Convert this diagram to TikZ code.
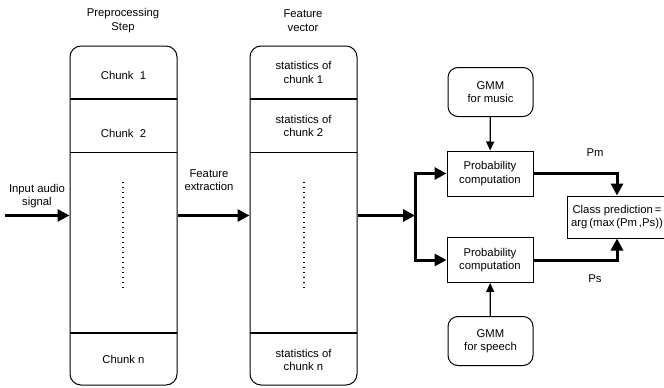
\documentclass[tikz,border=0pt]{standalone}
\usepackage{fontspec}
\setmainfont{Liberation Sans}
\usetikzlibrary{arrows.meta}

\begin{document}
\begin{tikzpicture}[x=1pt, y=-1pt, font=\fontsize{11.3}{13.5}\selectfont,
        stack/.style={rectangle, draw=black, line width=1pt, rounded corners=11pt, minimum width=107pt, minimum height=339pt},
        block/.style={rectangle, draw=black, line width=1pt, minimum width=86pt, minimum height=45pt, align=center},
        model/.style={rectangle, draw=black, line width=1pt, rounded corners=10pt, minimum width=85pt, minimum height=49pt, align=center},
        txt/.style={align=center, inner sep=0pt},
        divider/.style={line width=1.5pt},
        dots/.style={line width=1.4pt, dash pattern=on 1.4pt off 3.6pt},
        bigarrow/.style={line width=3pt, -{Triangle[length=12pt, width=12pt]}},
        smallarrow/.style={line width=1.2pt, -{Triangle[length=9pt, width=8pt]}}]

        \useasboundingbox (0,0) rectangle (664,388);

        \node[txt] (pretitle) at (123,20.5) {Preprocessing\\Step};
        \node[txt] (feattitle) at (303,20.5) {Feature\\vector};

        \node[stack] (pre) at (123.5,215.5) {};
        \node[stack] (feat) at (303.5,215.5) {};

        \draw[divider] (70,99) -- (177,99);
        \draw[divider] (70,152.5) -- (177,152.5);
        \draw[divider] (70,333) -- (177,333);
        \draw[divider] (250,99) -- (357,99);
        \draw[divider] (250,152.5) -- (357,152.5);
        \draw[divider] (250,333) -- (357,333);

        \node[txt] (c1) at (123.5,75) {Chunk\ \ 1};
        \node[txt] (c2) at (123.5,133) {Chunk\ \ 2};
        \node[txt] (cn) at (123.5,359) {Chunk n};
        \node[txt] (s1) at (303.5,72.5) {statistics of\\chunk 1};
        \node[txt] (s2) at (303.5,126) {statistics of\\chunk 2};
        \node[txt] (sn) at (303.5,360) {statistics of\\chunk n};

        \coordinate (d1a) at (123,182);
        \coordinate (d1b) at (123,288);
        \coordinate (d2a) at (304,182);
        \coordinate (d2b) at (304,288);
        \draw[dots] (d1a) -- (d1b);
        \draw[dots] (d2a) -- (d2b);

        \node[txt] (inlbl) at (37,196) {Input audio\\signal};
        \coordinate (in) at (5,215.5);
        \node[txt] (extlbl) at (209,180) {Feature\\extraction};

        \node[block] (prob1) at (490,173.5) {Probability\\computation};
        \node[block] (prob2) at (490,260) {Probability\\computation};
        \node[model] (gmm1) at (490.5,92) {GMM\\for music};
        \node[model] (gmm2) at (490.5,341) {GMM\\for speech};
        \node[block, minimum width=100pt, minimum height=42pt] (class) at (617,217) {Class prediction\,=\\arg\,(max\,(Pm\,,Ps))};

        \coordinate (split) at (415,215.5);

        \draw[bigarrow] (in) -- (pre);
        \draw[bigarrow] (pre) -- (feat);
        \draw[bigarrow] (feat) -- (split);
        \draw[bigarrow] (split) |- (prob1);
        \draw[bigarrow] (split) |- (prob2);

        \draw[smallarrow] (gmm1) -- (prob1);
        \draw[smallarrow] (gmm2) -- (prob2);

        \draw[bigarrow] (prob1) -| (class.north);
        \draw[bigarrow] (prob2) -| (class.south);

        \node[txt] (pm) at (595,153) {Pm};
        \node[txt] (ps) at (595,279) {Ps};

    \end{tikzpicture}
\end{document}
